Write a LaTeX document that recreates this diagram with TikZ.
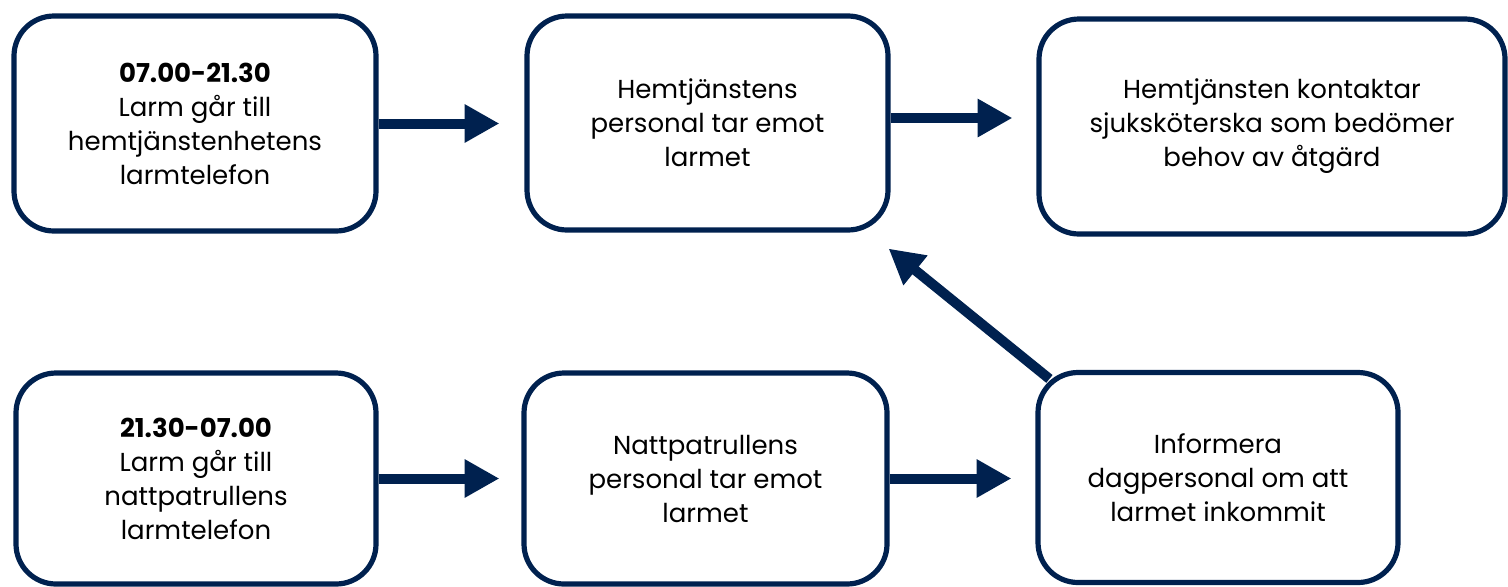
\documentclass[tikz,border=0pt]{standalone}
\usepackage{fontspec}
\setmainfont{Poppins}
\usetikzlibrary{arrows.meta,calc}
\definecolor{navy}{RGB}{0,33,79}
\begin{document}
\begin{tikzpicture}[x=0.75pt,y=-0.75pt,
  box/.style={draw=navy,line width=3.9pt,rounded corners=30pt,align=center,
    inner sep=0pt,font=\fontsize{19.5}{25.5}\selectfont},
  arr/.style={draw=navy,line width=7.5pt,-{Triangle[width=27pt,length=26pt]}}]
\useasboundingbox (0,0) rectangle (1508,586);
\node[box,minimum width=271.5pt,minimum height=161.25pt] (b1) at (195,123.5) {\textbf{07.00-21.30}\\Larm går till\\hemtjänstenhetens\\larmtelefon};
\node[box,minimum width=270.75pt,minimum height=160.5pt] (b2) at (707.5,123) {Hemtjänstens\\personal tar emot\\larmet};
\node[box,minimum width=349.5pt,minimum height=161.25pt] (b3) at (1272,126.5) {Hemtjänsten kontaktar\\sjuksköterska som bedömer\\behov av åtgärd};
\node[box,minimum width=270pt,minimum height=158.25pt] (b4) at (196,478.5) {\textbf{21.30-07.00}\\Larm går till\\nattpatrullens\\larmtelefon};
\node[box,minimum width=272.25pt,minimum height=158.25pt] (b5) at (705.5,478.5) {Nattpatrullens\\personal tar emot\\larmet};
\node[box,minimum width=270pt,minimum height=157.5pt] (b6) at (1218,477.5) {Informera\\dagpersonal om att\\larmet inkommit};
\draw[arr,shorten >=18.75pt] (b1.east) -- (b1.east -| b2.west);
\draw[arr,shorten >=18pt] ([yshift=3.75pt]b2.east) -- ([yshift=3.75pt]b2.east -| b3.west);
\draw[arr,shorten >=16.5pt] (b4.east) -- (b4.east -| b5.west);
\draw[arr,shorten >=18pt] (b5.east) -- (b5.east -| b6.west);
\coordinate (tail) at ($(b6.north west)+(14,9)$);
\coordinate (tip) at ($(b2.south east)+(-2,16)$);
\draw[arr] (tail) -- (tip);
\end{tikzpicture}
\end{document}
